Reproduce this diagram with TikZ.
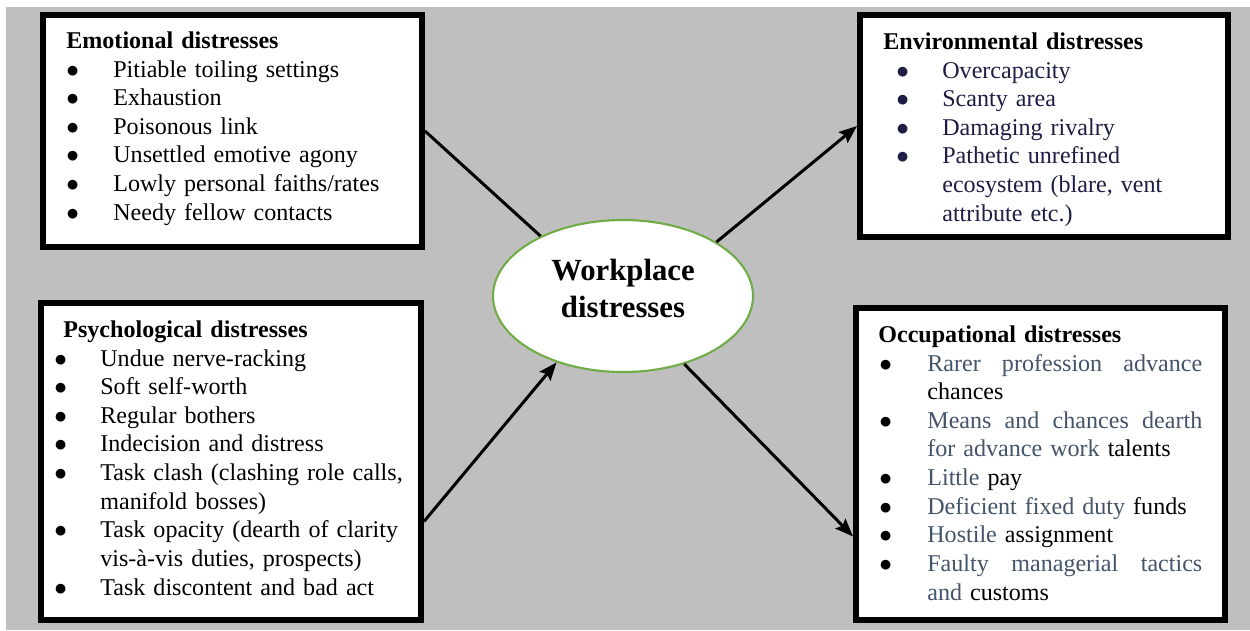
\documentclass[tikz,border=0pt]{standalone}
\usepackage{fontspec}
\setmainfont{Liberation Serif}
\usepackage{xcolor}
\usepackage{tikz}
\definecolor{bggray}{RGB}{191,191,191}
\definecolor{ovalgreen}{RGB}{112,173,71}
\definecolor{envnavy}{RGB}{28,30,68}
\definecolor{occgray}{RGB}{68,84,106}
\newlength{\itemind}
\newlength{\bulind}
\newcommand{\bitem}[1]{\par\noindent
  \makebox[\itemind][l]{\hspace{\bulind}$\bullet$}#1}
\newcommand{\bmore}[1]{\par\noindent\hspace*{\itemind}#1}
\newcommand{\fullline}[1]{\hbox to 5.5cm{#1}}
\newcommand{\gr}[1]{\textcolor{occgray}{#1}}
\usetikzlibrary{shapes.geometric, arrows.meta, positioning}

\begin{document}
\begin{tikzpicture}[x=0.02cm, y=-0.02cm,
    box/.style={draw, line width=0.12cm, fill=white, inner sep=0},
    list/.style={anchor=north west, inner sep=0,
      font=\fontsize{13.7}{16.3}\selectfont},
    oval/.style={ellipse, draw=ovalgreen, line width=1.2pt, fill=white,
      minimum width=5.2cm, minimum height=3.04cm, inner sep=0, align=center,
      font=\bfseries\fontsize{17.5}{21}\selectfont},
    link/.style={line width=0.06cm},
    >={Stealth[length=0.36cm, width=0.28cm, inset=0.06cm]}]
    \useasboundingbox (0,0) rectangle (1250,630);
    \fill[bggray] (6,7) rectangle (1250,630);

    % Boxes
    \node[box, minimum width=7.58cm, minimum height=4.64cm] (emo) at (232.5,131) {};
    \node[box, minimum width=7.36cm, minimum height=4.44cm] (env) at (1044,126) {};
    \node[box, minimum width=7.6cm, minimum height=6.34cm] (psy) at (231,461.5) {};
    \node[box, minimum width=7.38cm, minimum height=6.24cm] (occ) at (1040.5,464) {};

    % Emotional
    \node[list, text width=7cm] (emotxt) at (66,28) {%
      \setlength{\itemind}{0.94cm}\setlength{\bulind}{0cm}%
      \noindent\strut\textbf{Emotional distresses}
      \bitem{Pitiable toiling settings}
      \bitem{Exhaustion}
      \bitem{Poisonous link}
      \bitem{Unsettled emotive agony}
      \bitem{Lowly personal faiths/rates}
      \bitem{Needy fellow contacts}};

    % Environmental
    \node[list, text width=6.6cm] (envtxt) at (883,29) {%
      \setlength{\itemind}{1.18cm}\setlength{\bulind}{0.26cm}%
      \noindent\strut\textbf{Environmental distresses}\color{envnavy}
      \bitem{Overcapacity}
      \bitem{Scanty area}
      \bitem{Damaging rivalry}
      \bitem{Pathetic unrefined}
      \bmore{ecosystem (blare, vent}
      \bmore{attribute etc.)}};

    % Psychological
    \node[list, text width=7.2cm] (psytxt) at (54,317) {%
      \setlength{\itemind}{0.92cm}\setlength{\bulind}{0cm}%
      \noindent\strut\hspace*{0.18cm}\textbf{Psychological distresses}
      \bitem{Undue nerve-racking}
      \bitem{Soft self-worth}
      \bitem{Regular bothers}
      \bitem{Indecision and distress}
      \bitem{Task clash (clashing role calls,}
      \bmore{manifold bosses)}
      \bitem{Task opacity (dearth of clarity}
      \bmore{vis-\`a-vis duties, prospects)}
      \bitem{Task discontent and bad act}};

    % Occupational
    \node[list, text width=6.48cm] (occtxt) at (878,322) {%
      \setlength{\itemind}{0.98cm}\setlength{\bulind}{0.02cm}%
      \noindent\strut\textbf{Occupational distresses}
      \bitem{\fullline{\gr{Rarer\hfill profession\hfill advance}}}
      \bmore{chances}
      \bitem{\fullline{\gr{Means\hfill and\hfill chances\hfill dearth}}}
      \bmore{\gr{for advance work} talents}
      \bitem{\gr{Little} pay}
      \bitem{\gr{Deficient fixed duty} funds}
      \bitem{\gr{Hostile} assignment}
      \bitem{\fullline{\gr{Faulty\hfill managerial\hfill tactics}}}
      \bmore{\gr{and} customs}};

    % Centre
    \node[oval] (work) at (623,296) {Workplace\\distresses\rule[-0.32cm]{0pt}{0pt}};

    % Links
    \draw[link] (emo.east) -- (work.144);
    \draw[link, ->] (work.30) -- (env.west);
    \draw[link, ->] ([yshift=-1.2cm]psy.east) -- (work.225);
    \draw[link, ->] (work.312) -- ([yshift=-1.45cm]occ.west);
\end{tikzpicture}
\end{document}
